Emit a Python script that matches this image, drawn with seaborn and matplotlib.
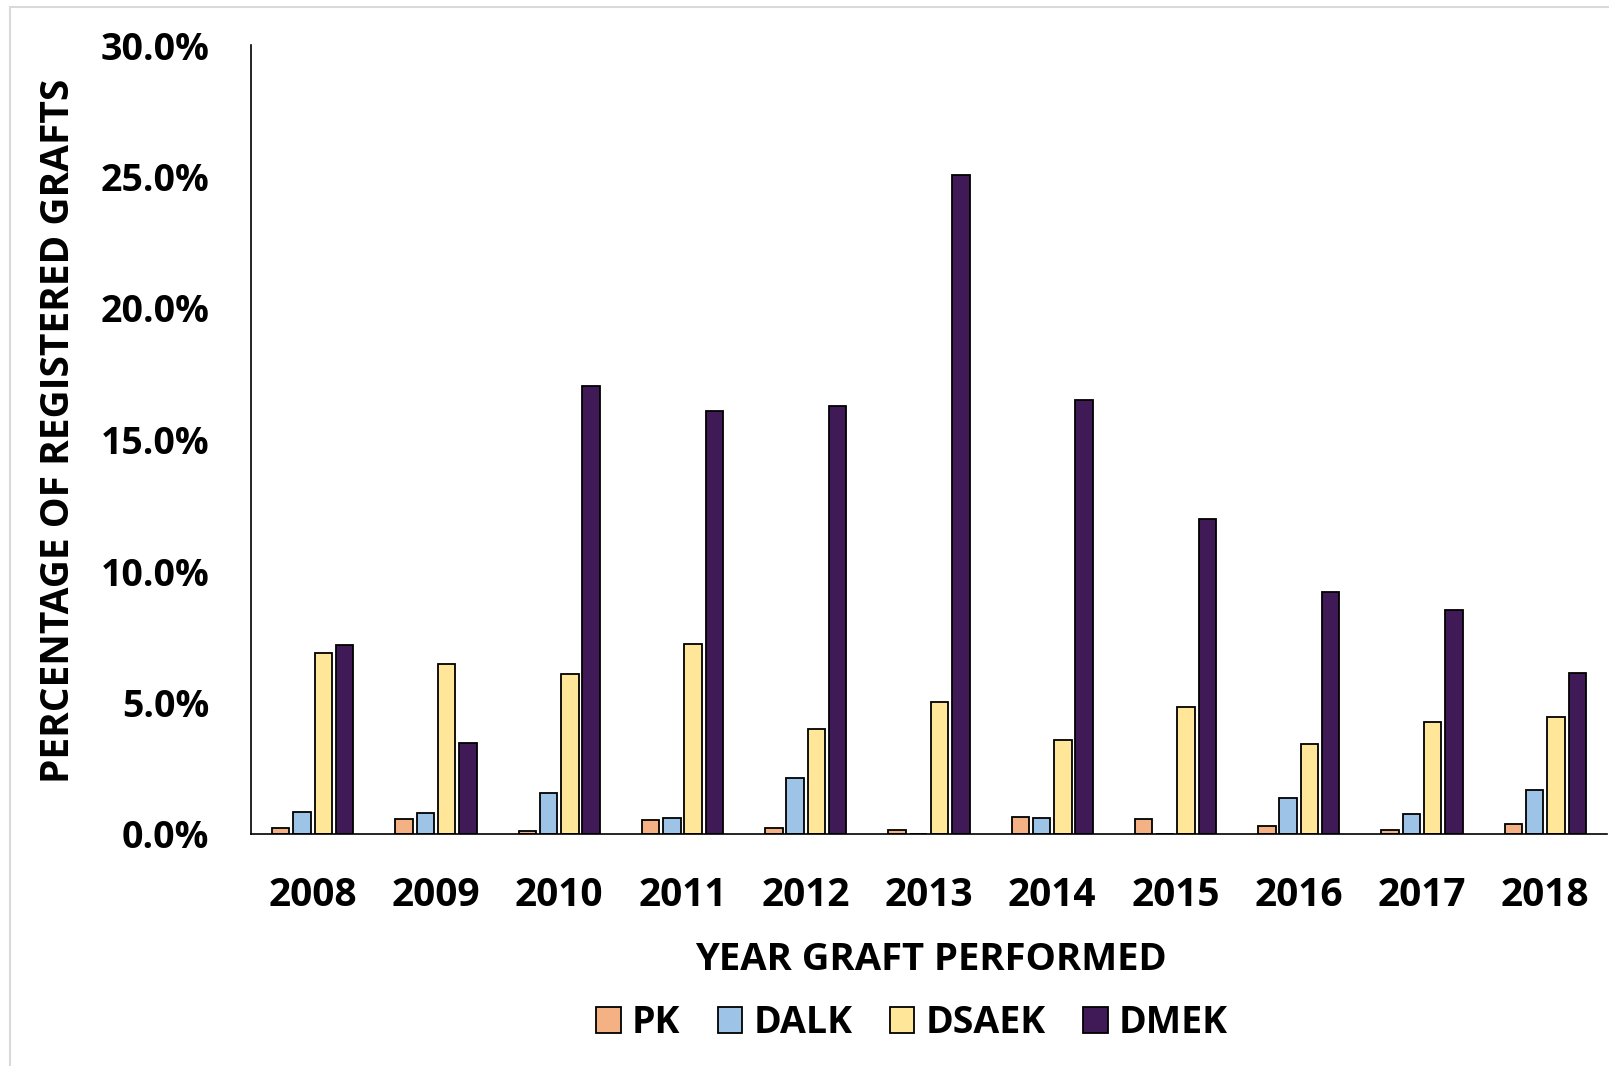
import pandas as pd
import seaborn as sns
import matplotlib.pyplot as plt
from matplotlib.patches import Rectangle
from matplotlib.ticker import FuncFormatter, FixedLocator

# values (percent of registered grafts)
years = ['2008', '2009', '2010', '2011', '2012', '2013', '2014', '2015', '2016', '2017', '2018']
pk = [0.24, 0.57, 0.13, 0.52, 0.24, 0.16, 0.65, 0.57, 0.32, 0.16, 0.37]
dalk = [0.85, 0.81, 1.55, 0.60, 2.14, 0.0, 0.61, 0.0, 1.38, 0.77, 1.67]
dsaek = [6.87, 6.48, 6.09, 7.22, 3.98, 5.03, 3.59, 4.84, 3.43, 4.25, 4.45]
dmek = [7.18, 3.47, 17.05, 16.07, 16.27, 25.05, 16.50, 11.98, 9.21, 8.50, 6.13]

graft_types = ['PK', 'DALK', 'DSAEK', 'DMEK']
colors = {'PK': '#F4B183', 'DALK': '#9DC3E6', 'DSAEK': '#FFE699', 'DMEK': '#3F1A57'}

# long form table for seaborn
rows = []
for name, vals in zip(graft_types, [pk, dalk, dsaek, dmek]):
    for yr, v in zip(years, vals):
        rows.append({'Year': yr, 'Pct': v, 'Type': name})
df = pd.DataFrame(rows)

sns.set_theme(style="white")
plt.rcParams['font.family'] = ['Open Sans', 'DejaVu Sans']
plt.rcParams['font.weight'] = 'bold'
plt.rcParams['text.color'] = 'black'
plt.rcParams['xtick.color'] = 'black'
plt.rcParams['ytick.color'] = 'black'

W, H = 1609, 1066
fig = plt.figure(figsize=(W / 100, H / 100), dpi=100)
ax = fig.add_axes([251 / W, 1 - 834 / H, (1607 - 251) / W, (834 - 45) / H])

sns.barplot(data=df, x='Year', y='Pct', hue='Type', order=years, hue_order=graft_types,
            palette=colors, saturation=1, width=0.69, gap=0.18, edgecolor='black',
            linewidth=1.3, ax=ax, legend=True)

ax.set_xlim(-0.5, len(years) - 0.5)
ax.set_ylim(0, 30)
ax.set_yticks([0, 5, 10, 15, 20, 25, 30])
ax.yaxis.set_major_formatter(FuncFormatter(lambda v, p: f'{v:.1f}%'))

# year labels centred, tick marks between the groups
ax.xaxis.set_minor_locator(FixedLocator([i - 0.5 for i in range(len(years) + 1)]))
ax.tick_params(axis='x', which='major', length=0, pad=30, labelsize=28, labelcolor='black')
ax.tick_params(axis='x', which='minor', length=11, width=1.2, direction='out', color='black')
ax.tick_params(axis='y', which='major', length=10, width=1.2, direction='out', color='black',
               pad=20, labelsize=27, labelcolor='black')
for lab in ax.get_xticklabels() + ax.get_yticklabels():
    lab.set_fontweight('bold')

sns.despine(ax=ax)
for s in ['left', 'bottom']:
    ax.spines[s].set_color('black')
    ax.spines[s].set_linewidth(1.2)

ax.set_xlabel('')
ax.set_ylabel('')
fig.text(59 / W, 1 - 431 / H, 'PERCENTAGE OF REGISTERED GRAFTS', rotation=90,
         ha='center', va='center', fontsize=28, fontweight='bold', color='black')
fig.text(931 / W, 1 - 960 / H, 'YEAR GRAFT PERFORMED', ha='center', va='center',
         fontsize=27.5, fontweight='bold', color='black')

sns.move_legend(ax, 'center', bbox_to_anchor=(0.4875, -0.2395), ncol=4, frameon=False,
                title=None, fontsize=27, handlelength=0.65, handleheight=0.7,
                handletextpad=0.3, columnspacing=1.0)
for t in ax.get_legend().get_texts():
    t.set_fontweight('bold')
    t.set_color('black')

# thin grey frame around the chart area
fig.patches.append(Rectangle((10 / W, -0.05), 1.2, 1.05 - 7 / H, transform=fig.transFigure,
                             fill=False, edgecolor='#d9d9d9', linewidth=1.5))

fig.savefig('out.png', dpi=100)
